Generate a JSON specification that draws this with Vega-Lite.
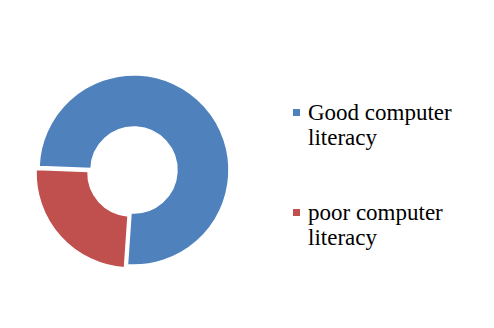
{
  "$schema": "https://vega.github.io/schema/vega-lite/v6.json",
  "width": 248,
  "height": 300,
  "padding": {"left": 10, "top": 20, "right": 236, "bottom": 8},
  "autosize": "none",
  "background": "white",
  "config": {"view": {"stroke": null}},
  "data": {"values": [
    {"category": "Good computer literacy", "value": 75.5},
    {"category": "poor computer literacy", "value": 24.5}
  ]},
  "encoding": {
    "theta": {"field": "value", "type": "quantitative", "stack": true, "scale": {"range": [4.75, 11.033]}},
    "order": {"field": "category"},
    "color": {
      "field": "category", "type": "nominal",
      "scale": {"domain": ["Good computer literacy", "poor computer literacy"], "range": ["#4F81BD", "#C0504D"]},
      "legend": {
        "title": null,
        "orient": "none",
        "legendX": 275,
        "legendY": 81,
        "symbolType": "square",
        "symbolSize": 49,
        "symbolStrokeWidth": 0,
        "labelFont": "Times New Roman, Liberation Serif, DejaVu Serif, serif",
        "labelFontSize": 23,
        "labelColor": "#000000",
        "labelLineHeight": 27,
        "labelOffset": 0,
        "labelLimit": 300,
        "rowPadding": 51,
        "labelExpr": "[slice(datum.label, 0, lastindexof(datum.label, ' ')), slice(datum.label, lastindexof(datum.label, ' ') + 1)]"
      }
    }
  },
  "layer": [
    {
      "mark": {"type": "arc", "innerRadius": 43, "outerRadius": 95, "stroke": "white", "strokeWidth": 1.5},
      "encoding": {
        "fillOpacity": {"condition": {"test": "datum.category === 'poor computer literacy'", "value": 0}, "value": 1},
        "strokeOpacity": {"condition": {"test": "datum.category === 'poor computer literacy'", "value": 0}, "value": 1}
      }
    },
    {
      "mark": {"type": "arc", "innerRadius": 43, "outerRadius": 95, "stroke": "white", "strokeWidth": 1.5, "xOffset": -3, "yOffset": 3},
      "encoding": {
        "fillOpacity": {"condition": {"test": "datum.category === 'poor computer literacy'", "value": 1}, "value": 0},
        "strokeOpacity": {"condition": {"test": "datum.category === 'poor computer literacy'", "value": 1}, "value": 0}
      }
    }
  ]
}
